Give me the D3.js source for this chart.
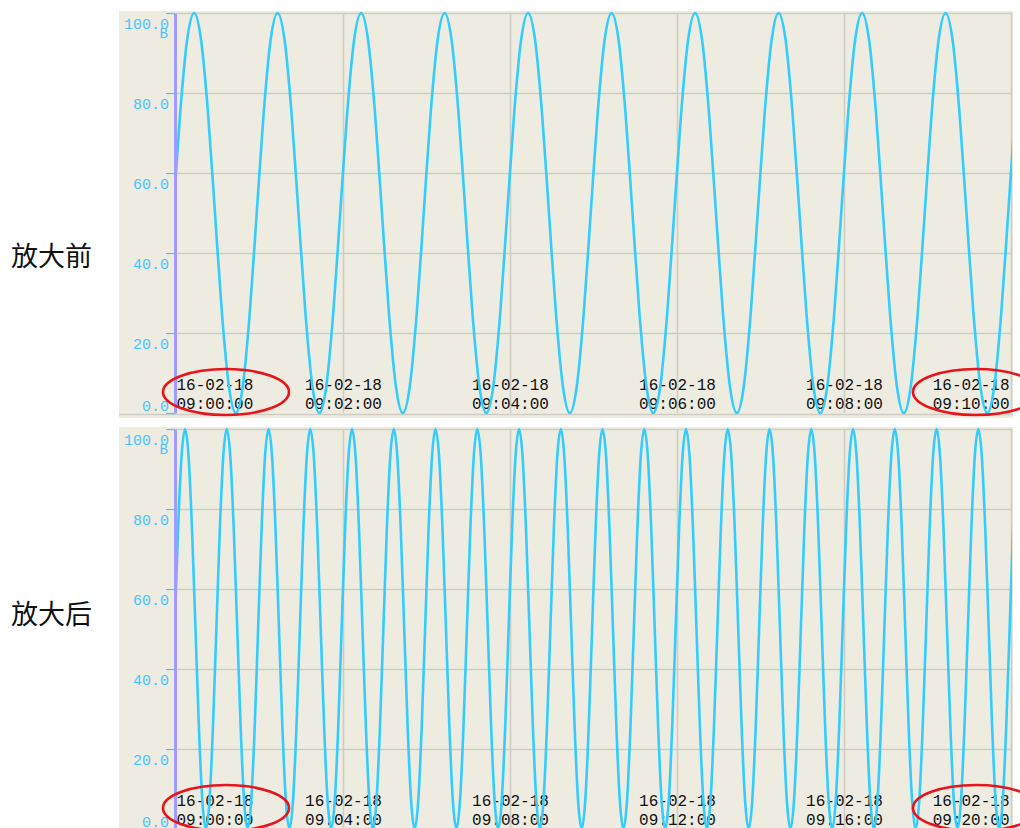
<!DOCTYPE html>
<html>
<head>
<meta charset="utf-8">
<script src="https://cdn.jsdelivr.net/npm/d3@7"></script>
<style>
  html, body { margin: 0; padding: 0; background: #ffffff; overflow: hidden; }
  svg { display: block; }
</style>
</head>
<body>
<svg id="chart" width="1020" height="828"></svg>
<script>
// ---------------- DATA ----------------
// Signal samples, one every 5 s, starting 2016-02-18 08:59:58 (one row = one minute)
const sampleStart = "2016-02-18 08:59:58";
const sampleStepSeconds = 5;
const signalValues = [
  50, 75, 93.3, 100, 93.3, 75, 50, 25, 6.7, 0, 6.7, 25,
  50, 75, 93.3, 100, 93.3, 75, 50, 25, 6.7, 0, 6.7, 25,
  50, 75, 93.3, 100, 93.3, 75, 50, 25, 6.7, 0, 6.7, 25,
  50, 75, 93.3, 100, 93.3, 75, 50, 25, 6.7, 0, 6.7, 25,
  50, 75, 93.3, 100, 93.3, 75, 50, 25, 6.7, 0, 6.7, 25,
  50, 75, 93.3, 100, 93.3, 75, 50, 25, 6.7, 0, 6.7, 25,
  50, 75, 93.3, 100, 93.3, 75, 50, 25, 6.7, 0, 6.7, 25,
  50, 75, 93.3, 100, 93.3, 75, 50, 25, 6.7, 0, 6.7, 25,
  50, 75, 93.3, 100, 93.3, 75, 50, 25, 6.7, 0, 6.7, 25,
  50, 75, 93.3, 100, 93.3, 75, 50, 25, 6.7, 0, 6.7, 25,
  50, 75, 93.3, 100, 93.3, 75, 50, 25, 6.7, 0, 6.7, 25,
  50, 75, 93.3, 100, 93.3, 75, 50, 25, 6.7, 0, 6.7, 25,
  50, 75, 93.3, 100, 93.3, 75, 50, 25, 6.7, 0, 6.7, 25,
  50, 75, 93.3, 100, 93.3, 75, 50, 25, 6.7, 0, 6.7, 25,
  50, 75, 93.3, 100, 93.3, 75, 50, 25, 6.7, 0, 6.7, 25,
  50, 75, 93.3, 100, 93.3, 75, 50, 25, 6.7, 0, 6.7, 25,
  50, 75, 93.3, 100, 93.3, 75, 50, 25, 6.7, 0, 6.7, 25,
  50, 75, 93.3, 100, 93.3, 75, 50, 25, 6.7, 0, 6.7, 25,
  50, 75, 93.3, 100, 93.3, 75, 50, 25, 6.7, 0, 6.7, 25,
  50, 75, 93.3, 100, 93.3, 75, 50, 25, 6.7, 0, 6.7, 25,
  50, 75, 93.3, 100, 93.3, 75, 50, 25, 6.7, 0, 6.7, 25
];

const panelTitles = ["放大前", "放大后"];
const yTickValues = [0, 20, 40, 60, 80, 100];
const yUnitLabel = "B";
const topTimeTicks = ["2016-02-18 09:00:00", "2016-02-18 09:02:00", "2016-02-18 09:04:00",
                      "2016-02-18 09:06:00", "2016-02-18 09:08:00", "2016-02-18 09:10:00"];
const bottomTimeTicks = ["2016-02-18 09:00:00", "2016-02-18 09:04:00", "2016-02-18 09:08:00",
                         "2016-02-18 09:12:00", "2016-02-18 09:16:00", "2016-02-18 09:20:00"];
// time ticks that are circled in red
const circledTicks = ["2016-02-18 09:00:00", "2016-02-18 09:10:00", "2016-02-18 09:20:00"];

// ---------------- LAYOUT / STYLE ----------------
const parseTime = d3.timeParse("%Y-%m-%d %H:%M:%S");
const fmtDate = d3.timeFormat("%y-%m-%d");
const fmtTime = d3.timeFormat("%H:%M:%S");

const t0 = parseTime(sampleStart);
const series = signalValues.map((v, i) => ({ t: new Date(t0.getTime() + i * sampleStepSeconds * 1000), v }));

const COLORS = {
  bg: "#eeece1", grid: "#cfcdc3", line: "#33ccff", axisText: "#45c5fb",
  yAxis: "#a09cff", label: "#111111", ellipse: "#e8141b"
};

const panels = [
  { title: panelTitles[0], ticks: topTimeTicks, plotTop: 13, plotBottom: 413, bgTop: 11, bgBottom: 418, titleY: 254 },
  { title: panelTitles[1], ticks: bottomTimeTicks, plotTop: 429, plotBottom: 829, bgTop: 427, bgBottom: 834, titleY: 612 }
];
const plotLeft = 176, plotRight = 1011, bgLeft = 119, bgRight = 1013;

const svg = d3.select("#chart");

panels.forEach((p, pi) => {
  const tickDates = p.ticks.map(parseTime);
  const x = d3.scaleTime().domain([tickDates[0], tickDates[tickDates.length - 1]]).range([plotLeft, plotRight]);
  const y = d3.scaleLinear().domain([0, 100]).range([p.plotBottom, p.plotTop]);
  const g = svg.append("g");

  // panel title
  svg.append("text")
    .attr("x", 11).attr("y", p.titleY)
    .attr("dominant-baseline", "central")
    .attr("font-family", "'Noto Sans CJK SC', sans-serif")
    .attr("font-size", 27).attr("fill", "#111")
    .text(p.title);

  // background
  g.append("rect")
    .attr("x", bgLeft).attr("y", p.bgTop)
    .attr("width", bgRight - bgLeft).attr("height", p.bgBottom - p.bgTop)
    .attr("fill", COLORS.bg);

  // horizontal grid lines
  g.append("g")
    .attr("transform", `translate(${plotLeft},0)`)
    .call(d3.axisLeft(y).tickValues(yTickValues.filter(d => d > 0)).tickSize(-(plotRight - plotLeft)).tickFormat(""))
    .call(s => s.select(".domain").remove())
    .call(s => s.selectAll("line").attr("stroke", COLORS.grid).attr("stroke-width", 1.6));

  // vertical grid lines
  g.append("g")
    .attr("transform", `translate(0,${p.plotBottom})`)
    .call(d3.axisBottom(x).tickValues(tickDates.slice(1)).tickSize(-(p.plotBottom - p.plotTop)).tickFormat(""))
    .call(s => s.select(".domain").remove())
    .call(s => s.selectAll("line").attr("stroke", COLORS.grid).attr("stroke-width", 1.6));

  // bottom border line
  g.append("line")
    .attr("x1", bgLeft).attr("x2", bgRight)
    .attr("y1", p.plotBottom + 1.5).attr("y2", p.plotBottom + 1.5)
    .attr("stroke", COLORS.grid).attr("stroke-width", 1.6);

  // clip for the signal
  const clipId = "clip" + pi;
  svg.append("clipPath").attr("id", clipId)
    .append("rect")
    .attr("x", plotLeft).attr("y", p.plotTop - 3)
    .attr("width", plotRight - plotLeft + 1).attr("height", p.plotBottom - p.plotTop + 6);

  // x-axis labels (two lines: date / time)
  const xAx = g.append("g")
    .attr("transform", `translate(0,${p.plotBottom})`)
    .call(d3.axisBottom(x).tickValues(tickDates).tickSize(0).tickFormat(""));
  xAx.select(".domain").remove();
  xAx.selectAll(".tick").each(function (d, i) {
    const n = tickDates.length;
    const anchor = i === 0 ? "start" : (i === n - 1 ? "end" : "middle");
    const dx = i === 0 ? 0 : (i === n - 1 ? -2 : 0);
    const t = d3.select(this).append("text")
      .attr("fill", COLORS.label)
      .attr("font-family", "'Liberation Mono', 'DejaVu Sans Mono', monospace")
      .attr("font-size", 16)
      .attr("text-anchor", anchor);
    t.append("tspan").attr("x", dx).attr("y", -23).text(fmtDate(d));
    t.append("tspan").attr("x", dx).attr("y", -4).text(fmtTime(d));
  });

  // signal line
  const line = d3.line()
    .x(d => x(d.t))
    .y(d => y(d.v))
    .curve(d3.curveMonotoneX);
  g.append("path")
    .datum(series)
    .attr("clip-path", `url(#${clipId})`)
    .attr("fill", "none")
    .attr("stroke", COLORS.line)
    .attr("stroke-width", 2.6)
    .attr("d", line);

  // y axis
  const yAx = g.append("g")
    .attr("transform", `translate(${plotLeft - 1},0)`)
    .call(d3.axisLeft(y).tickValues(yTickValues).tickSize(9).tickSizeOuter(0).tickFormat(d3.format(".1f")));
  yAx.select(".domain").attr("stroke", COLORS.yAxis).attr("stroke-width", 3);
  yAx.selectAll(".tick line").attr("stroke", COLORS.axisText).attr("stroke-width", 1.2);
  yAx.selectAll(".tick text")
    .attr("fill", COLORS.axisText)
    .attr("font-family", "'Liberation Mono', 'DejaVu Sans Mono', monospace")
    .attr("font-size", 15)
    .attr("x", -6)
    .attr("dy", null)
    .attr("y", d => d === 0 ? -3 : 15);
  yAx.append("text")
    .attr("x", -7).attr("y", 25)
    .attr("transform", `translate(0,${p.plotTop})`)
    .attr("text-anchor", "end")
    .attr("fill", COLORS.axisText)
    .attr("font-family", "'Liberation Mono', 'DejaVu Sans Mono', monospace")
    .attr("font-size", 14)
    .text(yUnitLabel);

  // red annotation ellipses around circled tick labels
  tickDates.forEach((d, i) => {
    if (!circledTicks.map(s => parseTime(s).getTime()).includes(d.getTime())) return;
    const n = tickDates.length;
    const cx = i === 0 ? x(d) + 50 : (i === n - 1 ? x(d) - 35 : x(d));
    g.append("ellipse")
      .attr("cx", cx).attr("cy", p.plotBottom - 21)
      .attr("rx", 63).attr("ry", 23)
      .attr("fill", "none")
      .attr("stroke", COLORS.ellipse)
      .attr("stroke-width", 2.6);
  });
});
</script>
</body>
</html>
